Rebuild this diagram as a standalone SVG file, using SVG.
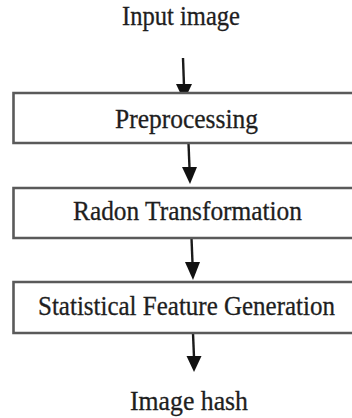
<svg xmlns="http://www.w3.org/2000/svg" width="352" height="418" viewBox="0 0 352 418">
  <style>
    .box { fill: #ffffff; stroke: #5a5a5a; stroke-width: 2.6; }
    .lbl { font-family: "Liberation Serif", "Times New Roman", serif; font-size: 27px; fill: #1e1e1e; stroke: #1e1e1e; stroke-width: 0.3; text-anchor: middle; }
    .edge { stroke: #1a1a1a; stroke-width: 2.4; fill: none; }
    .head { fill: #111111; }
  </style>
  <rect width="352" height="418" fill="#ffffff"/>

  <g id="connectors">
    <path class="edge" d="M183 58 L184 86"/>
    <polygon class="head" points="176,84 192,84 184,101"/>
    <path class="edge" d="M188.5 143 L189.5 168"/>
    <polygon class="head" points="182,167 197,167 190,184"/>
    <path class="edge" d="M191.5 238 L192.5 263"/>
    <polygon class="head" points="185,262 200,262 193,280"/>
    <path class="edge" d="M193 333 L194 357"/>
    <polygon class="head" points="186.5,356 201.5,356 194,372"/>
  </g>

  <g id="input">
    <text class="lbl" x="181" y="25" textLength="118" lengthAdjust="spacingAndGlyphs">Input image</text>
  </g>

  <!-- boxes run past the right edge, so only top, left and bottom sides are stroked -->
  <g id="preprocessing">
    <path class="box" d="M352 93 H13.5 V143 H352"/>
    <text class="lbl" x="186.5" y="128" textLength="143" lengthAdjust="spacingAndGlyphs">Preprocessing</text>
  </g>

  <g id="radon">
    <path class="box" d="M352 188 H13.5 V238 H352"/>
    <text class="lbl" x="187.5" y="220" textLength="229" lengthAdjust="spacingAndGlyphs">Radon Transformation</text>
  </g>

  <g id="features">
    <path class="box" d="M352 282 H13.5 V333 H352"/>
    <text class="lbl" x="186.5" y="315" textLength="297" lengthAdjust="spacingAndGlyphs">Statistical Feature Generation</text>
  </g>

  <g id="hash">
    <text class="lbl" x="189" y="410" textLength="118" lengthAdjust="spacingAndGlyphs">Image hash</text>
  </g>
</svg>
